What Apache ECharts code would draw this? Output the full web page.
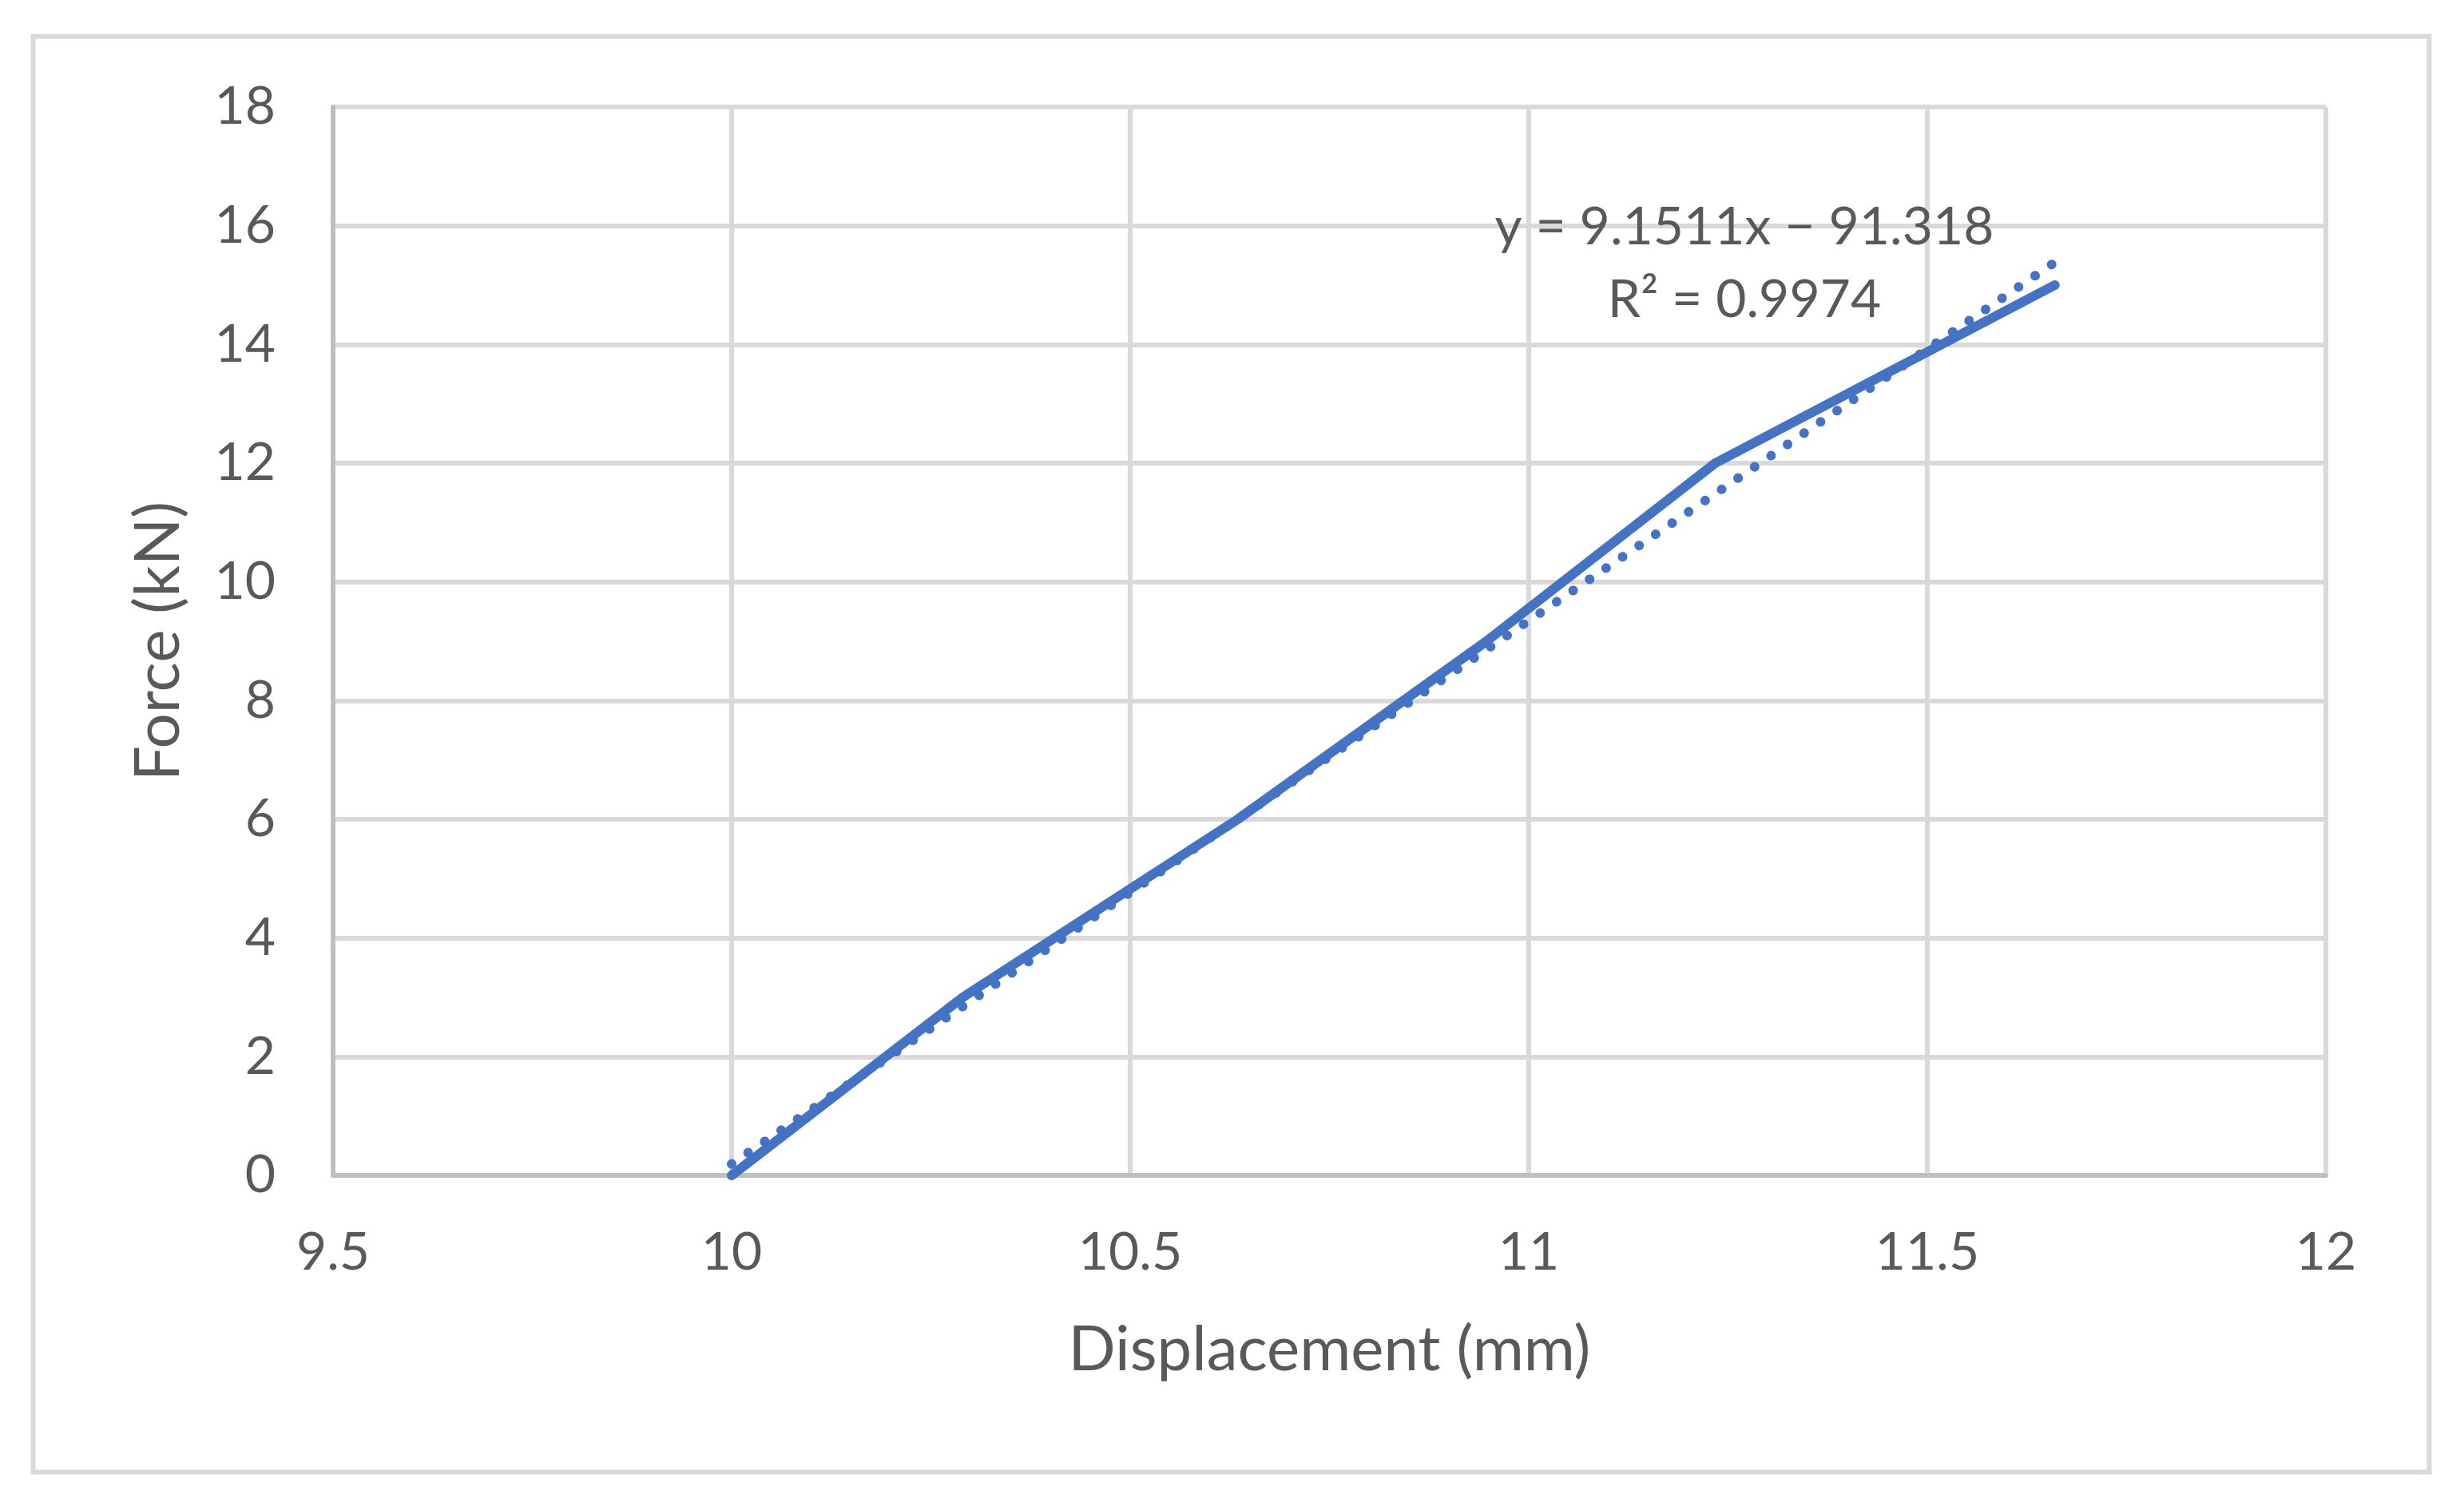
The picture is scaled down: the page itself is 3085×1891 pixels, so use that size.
<!DOCTYPE html>
<html>
<head>
<meta charset="utf-8">
<script src="https://cdn.jsdelivr.net/npm/echarts@6/dist/echarts.min.js"></script>
<style>
  html, body { margin: 0; padding: 0; background: #ffffff; }
  #chart { width: 3085px; height: 1891px; }
</style>
</head>
<body>
<div id="chart"></div>
<script>
// ---- data ----
const displacement = [10, 10.29, 10.635, 10.947, 11.234, 11.66];   // mm
const force        = [0, 3, 6, 9, 12, 15];                          // kN
const trendSlope = 9.1511;
const trendIntercept = -91.318;
const trendR2 = 0.9974;
const xTicks = { min: 9.5, max: 12, interval: 0.5 };
const yTicks = { min: 0, max: 18, interval: 2 };
const xTitle = 'Displacement (mm)';
const yTitle = 'Force (kN)';

// ---- build ----
const seriesData = displacement.map((x, i) => [x, force[i]]);
const xMinData = Math.min(...displacement);
const xMaxData = Math.max(...displacement);
const trendData = [xMinData, xMaxData].map(x => [x, trendSlope * x + trendIntercept]);
const eqText = 'y = ' + trendSlope.toFixed(4) + 'x \u2212 ' + Math.abs(trendIntercept).toFixed(3) +
               '\nR\u00B2 = ' + trendR2.toFixed(4);

const FONT = 'Lato, Carlito, "Open Sans", sans-serif';
const TXT = '#595959';
const BLUE = '#4472C4';

const chart = echarts.init(document.getElementById('chart'), null, { renderer: 'canvas' });
chart.setOption({
  backgroundColor: '#ffffff',
  animation: false,
  grid: { left: 417, right: 173, top: 134, bottom: 419, containLabel: false },
  xAxis: {
    type: 'value',
    min: xTicks.min, max: xTicks.max, interval: xTicks.interval,
    name: xTitle,
    nameLocation: 'middle',
    nameGap: 180,
    nameTextStyle: { color: TXT, fontFamily: FONT, fontSize: 78, lineHeight: 78 },
    axisLine: { show: true, onZero: false, lineStyle: { color: '#bfbfbf', width: 6 } },
    axisTick: { show: false },
    axisLabel: { color: TXT, fontFamily: FONT, fontSize: 66, lineHeight: 66, margin: 64 },
    splitLine: { show: true, lineStyle: { color: '#d9d9d9', width: 6 } }
  },
  yAxis: {
    type: 'value',
    min: yTicks.min, max: yTicks.max, interval: yTicks.interval,
    name: yTitle,
    nameLocation: 'middle',
    nameGap: 179,
    nameRotate: 90,
    nameTextStyle: { color: TXT, fontFamily: FONT, fontSize: 78, lineHeight: 78 },
    axisLine: { show: true, onZero: false, lineStyle: { color: '#bfbfbf', width: 6 } },
    axisTick: { show: false },
    axisLabel: { color: TXT, fontFamily: FONT, fontSize: 66, lineHeight: 66, margin: 72 },
    splitLine: { show: true, lineStyle: { color: '#d9d9d9', width: 6 } }
  },
  series: [
    {
      name: 'Force',
      type: 'line',
      data: seriesData,
      showSymbol: false,
      symbol: 'none',
      lineStyle: { color: BLUE, width: 12, cap: 'round', join: 'round' },
      z: 3
    },
    {
      name: 'Linear trend',
      type: 'line',
      data: trendData,
      showSymbol: false,
      symbol: 'none',
      lineStyle: { color: BLUE, width: 12, type: [0.1, 24.9], cap: 'round' },
      z: 2
    }
  ],
  graphic: [
    {
      type: 'rect',
      shape: { x: 41.5, y: 45.5, width: 3000, height: 1798 },
      style: { fill: null, stroke: '#d9d9d9', lineWidth: 6 },
      z: 0, silent: true
    },
    {
      type: 'text',
      x: 2184, y: 330,
      style: {
        text: eqText,
        fill: TXT,
        font: '66px ' + FONT,
        lineHeight: 91,
        align: 'center',
        verticalAlign: 'middle'
      },
      z: 10, silent: true
    }
  ]
});
</script>
</body>
</html>
